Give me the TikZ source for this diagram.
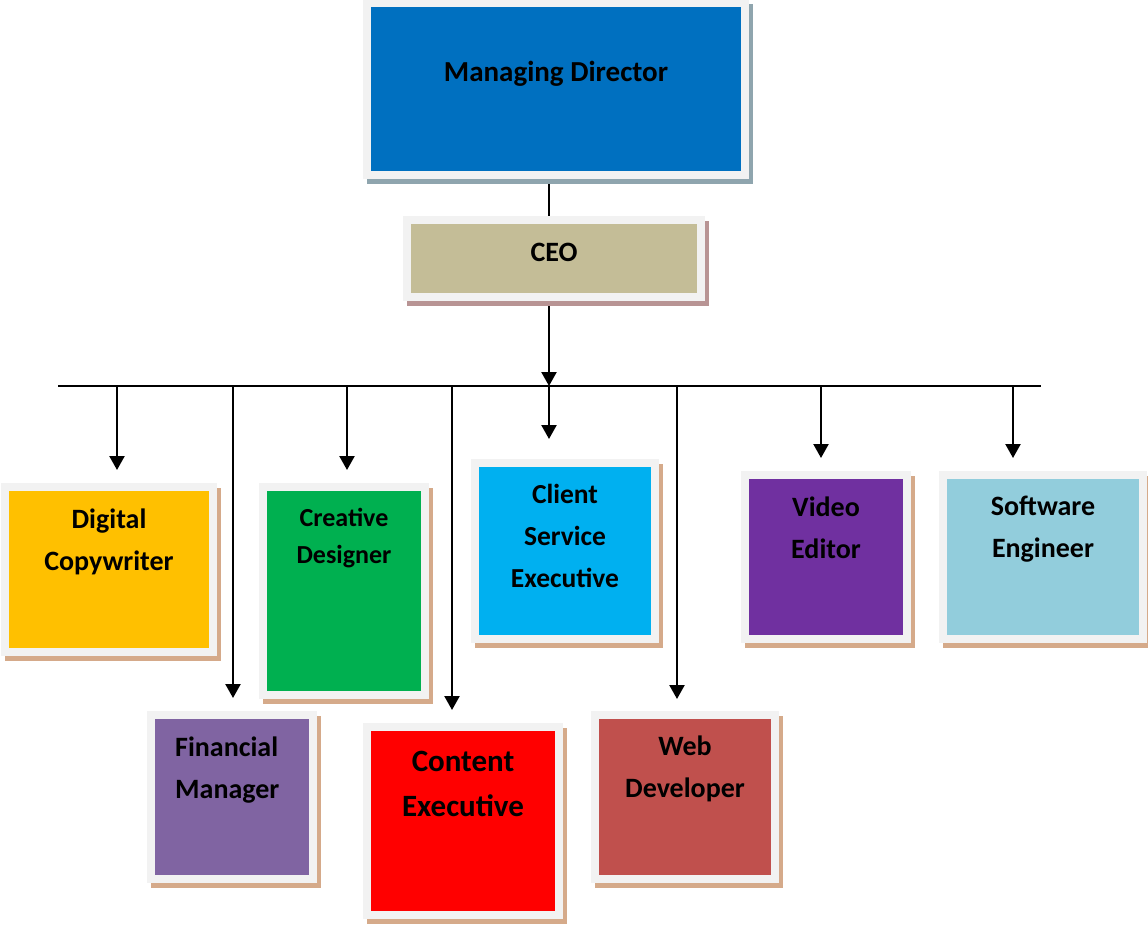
\documentclass[tikz,border=0pt]{standalone}
\usepackage{fontspec}
\setmainfont{Carlito}
\usetikzlibrary{arrows.meta,fit,backgrounds,shadows}
\definecolor{framegray}{HTML}{F2F2F2}
\definecolor{mdblue}{HTML}{0070C0}
\definecolor{ceotan}{HTML}{C4BD97}
\definecolor{gold}{HTML}{FFC000}
\definecolor{grn}{HTML}{00B050}
\definecolor{cyn}{HTML}{00B0F0}
\definecolor{purp}{HTML}{7030A0}
\definecolor{lblue}{HTML}{92CDDC}
\definecolor{viol}{HTML}{8064A2}
\definecolor{rd}{HTML}{FF0000}
\definecolor{brick}{HTML}{C0504D}
\definecolor{mdsh}{HTML}{8FA5AE}
\definecolor{ceosh}{HTML}{B89494}
\definecolor{tansh}{HTML}{D5AA8A}
\begin{document}
\begin{tikzpicture}[x=1pt,y=-1pt,
  box/.style={draw=framegray, line width=8pt, inner sep=4pt,
    drop shadow={shadow xshift=4pt, shadow yshift=-5pt, opacity=1, fill=#1, draw=#1, line width=8pt}},
  lbl/.style={align=center, inner sep=0pt, anchor=base, text=black,
    font=\bfseries\fontsize{28}{42.3}\selectfont},
  conn/.style={draw=black, line width=2.3pt},
  arr/.style={conn, -{Triangle[width=15pt,length=14pt]}}]
\useasboundingbox (0,0) rectangle (1148,924);
% boxes
\node[box=mdsh, fill=mdblue, fit={(371,7) (741,171)}] (md) {};
\node[box=ceosh, fill=ceotan, fit={(411,224) (697,293)}] (ceo) {};
\node[box=tansh, fill=gold, fit={(9,491) (209,648)}] (dc) {};
\node[box=tansh, fill=grn, fit={(267,491) (421,691)}] (cd) {};
\node[box=tansh, fill=cyn, fit={(479,467) (651,635)}] (cs) {};
\node[box=tansh, fill=purp, fit={(749,479) (903,635)}] (ve) {};
\node[box=tansh, fill=lblue, fit={(947,479) (1139,635)}] (se) {};
\node[box=tansh, fill=viol, fit={(155,719) (309,875)}] (fm) {};
\node[box=tansh, fill=rd, fit={(371,731) (555,911)}] (ce) {};
\node[box=tansh, fill=brick, fit={(599,719) (771,875)}] (wd) {};
% texts (base anchor = baseline of last line)
\node[lbl, font=\bfseries\fontsize{29}{35}\selectfont] (tmd) at (556,81) {Managing Director};
\node[lbl] (tceo) at (554,261.5) {CEO};
\node[lbl] (tdc) at (109,570.7) {Digital\\Copywriter};
\node[lbl, font=\bfseries\fontsize{26}{36.6}\selectfont] (tcd) at (344,563.3) {Creative\\Designer};
\node[lbl, font=\bfseries\fontsize{27.5}{41.7}\selectfont] (tcs) at (565,587.3) {Client\\Service\\Executive};
\node[lbl] (tve) at (826,558.3) {Video\\Editor};
\node[lbl] (tse) at (1043,557.5) {Software\\Engineer};
\node[lbl, anchor=base west, align=left] (tfm) at (175,798.3) {Financial\\Manager};
\node[lbl, font=\bfseries\fontsize{31}{44.3}\selectfont] (tce) at (463,816) {Content\\Executive};
\node[lbl] (twd) at (685,797.3) {Web\\Developer};
% connectors
\begin{scope}[on background layer]
\coordinate (bl) at (58,386);
\coordinate (br) at (1041,386);
\coordinate (j) at (549,386);
\coordinate (jdc) at (117,386);
\coordinate (jfm) at (233,386);
\coordinate (jcd) at (347,386);
\coordinate (jce) at (452,386);
\coordinate (jwd) at (677,386);
\coordinate (jve) at (821,386);
\coordinate (jse) at (1013,386);
\draw[conn] (bl) -- (br);
\draw[conn] (md.south -| j) -- (ceo.north -| j);
\draw[arr] (ceo.south -| j) -- (j);
\draw[arr] (j) -- ([yshift=20pt]cs.north -| j);
\draw[arr] (jdc) -- ([yshift=13pt]dc.north -| jdc);
\draw[arr] (jfm) -- ([yshift=13pt]fm.north -| jfm);
\draw[arr] (jcd) -- ([yshift=13pt]cd.north -| jcd);
\draw[arr] (jce) -- ([yshift=13pt]ce.north -| jce);
\draw[arr] (jwd) -- ([yshift=12pt]wd.north -| jwd);
\draw[arr] (jve) -- ([yshift=13pt]ve.north -| jve);
\draw[arr] (jse) -- ([yshift=13pt]se.north -| jse);
\end{scope}
\end{tikzpicture}
\end{document}
